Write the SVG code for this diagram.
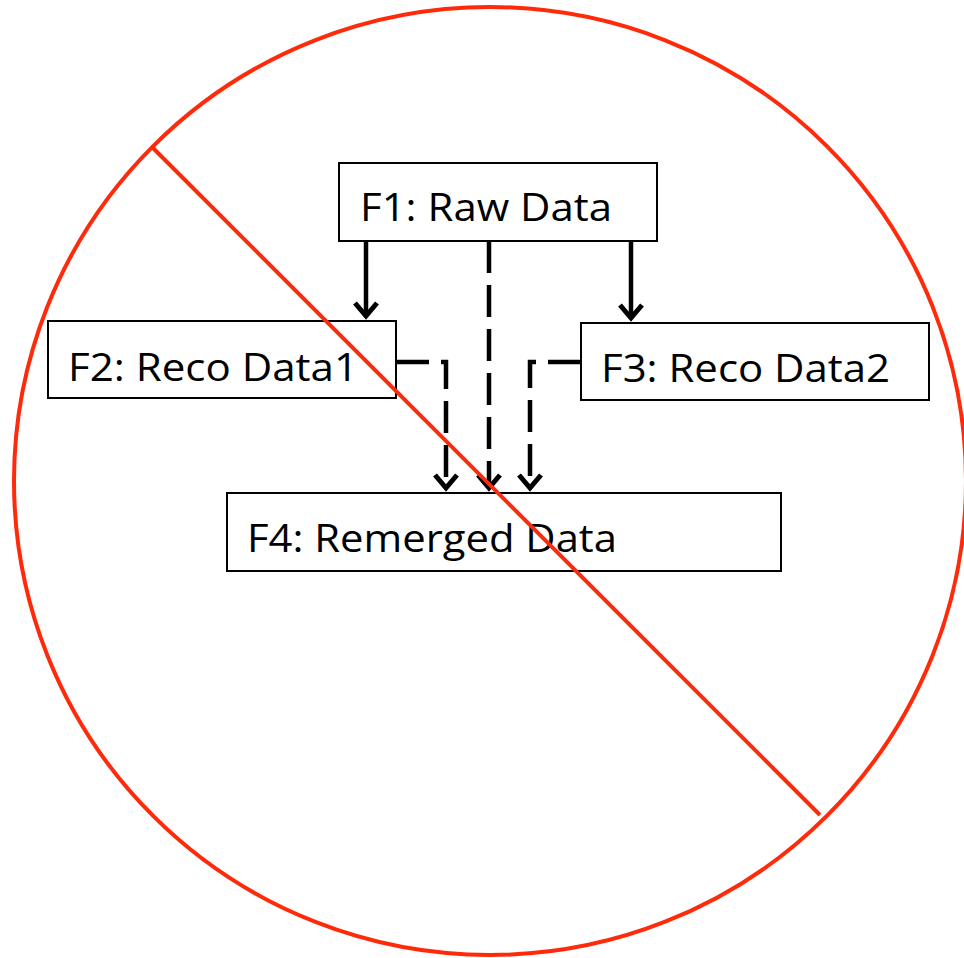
<svg xmlns="http://www.w3.org/2000/svg" width="964" height="958" viewBox="0 0 964 958">
<defs>
<style>
.box{fill:#fff;stroke:#000;stroke-width:2}
.lbl{font-family:"Open Sans","Liberation Sans",sans-serif;font-size:38px;fill:#000}
.solid{fill:none;stroke:#000;stroke-width:4.5}
.dash{fill:none;stroke:#000;stroke-width:4.5;stroke-dasharray:32 12}
.head{fill:none;stroke:#000;stroke-width:5;stroke-linejoin:miter}
.red{fill:none;stroke:#ff2a0a;stroke-width:4}
</style>
</defs>
<rect width="964" height="958" fill="#fff"/>
<g id="f1"><rect class="box" x="339" y="163" width="318" height="78"/><text class="lbl" x="360" y="221" textLength="252" lengthAdjust="spacingAndGlyphs">F1: Raw Data</text></g>
<g id="f2"><rect class="box" x="48" y="321" width="348" height="77"/><text class="lbl" x="68" y="381" textLength="290" lengthAdjust="spacingAndGlyphs">F2: Reco Data1</text></g>
<g id="f3"><rect class="box" x="581" y="323" width="348" height="77"/><text class="lbl" x="601" y="382" textLength="289" lengthAdjust="spacingAndGlyphs">F3: Reco Data2</text></g>
<g id="f4"><rect class="box" x="227" y="493" width="554" height="78"/><text class="lbl" x="247" y="552" textLength="370" lengthAdjust="spacingAndGlyphs">F4: Remerged Data</text></g>
<g id="connectors">
<path class="solid" d="M366,241 L366,316"/>
<path class="head" d="M355,303 L366,316 L377,303"/>
<path class="solid" d="M631,241 L631,318"/>
<path class="head" d="M620,305 L631,318 L642,305"/>
<path class="dash" d="M489,241 L489,488"/>
<path class="head" d="M478,475 L489,488 L500,475"/>
<path class="dash" d="M397,362 L446,362 L446,488"/>
<path class="head" d="M435,475 L446,488 L457,475"/>
<path class="dash" d="M580,362 L530,362 L530,488"/>
<path class="head" d="M519,475 L530,488 L541,475"/>
</g>
<g id="prohibition">
<ellipse class="red" cx="490" cy="481" rx="476" ry="474"/>
<line class="red" x1="153" y1="148" x2="820" y2="815"/>
</g>
</svg>
